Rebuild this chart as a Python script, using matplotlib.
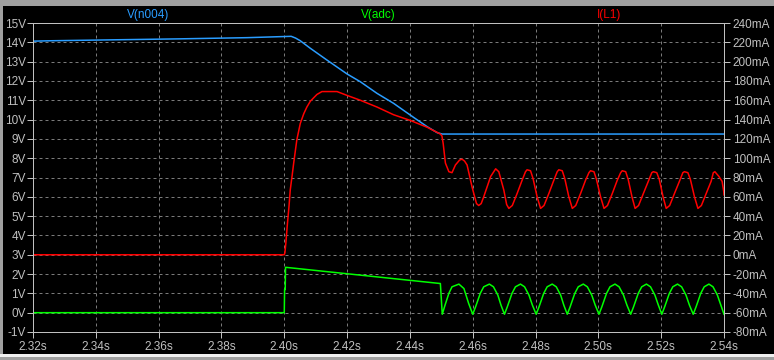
import matplotlib.pyplot as plt
import numpy as np
from matplotlib.patches import Rectangle

# ---- data ----
# V(n004), volts
n004_t = [2.32, 2.3255, 2.346, 2.367, 2.388, 2.4022, 2.4036, 2.4051, 2.4083, 2.4136,
          2.4200, 2.4242, 2.4295, 2.4348, 2.4412, 2.4455, 2.4487, 2.4503, 2.54]
n004_v = [14.06, 14.08, 14.13, 14.18, 14.24, 14.31, 14.22, 14.08, 13.69, 13.08,
          12.36, 11.96, 11.36, 10.84, 10.11, 9.63, 9.32, 9.25, 9.25]

# V(adc), volts
adc_t = [2.32, 2.4000, 2.4001, 2.4003, 2.4004, 2.4497, 2.4503,
         2.4512, 2.4524, 2.4534, 2.4556, 2.4572, 2.4587, 2.4600,
         2.4609, 2.4624, 2.4635, 2.4653, 2.4666, 2.4680, 2.4690, 2.4701,
         2.4710, 2.4725, 2.4736, 2.4752, 2.4765, 2.4779, 2.4790, 2.4802,
         2.4811, 2.4826, 2.4837, 2.4853, 2.4866, 2.4880, 2.4890, 2.4901,
         2.4910, 2.4925, 2.4936, 2.4952, 2.4965, 2.4979, 2.4990, 2.5002,
         2.5011, 2.5026, 2.5037, 2.5053, 2.5066, 2.5080, 2.5091, 2.5103,
         2.5112, 2.5127, 2.5138, 2.5153, 2.5166, 2.5180, 2.5191, 2.5202,
         2.5211, 2.5226, 2.5237, 2.5252, 2.5265, 2.5279, 2.5290, 2.5302,
         2.5311, 2.5326, 2.5337, 2.5352, 2.5365, 2.5379, 2.5390, 2.5400]
adc_v = [0.0, 0.0, 1.2, 1.2, 2.35, 1.51, -0.08,
         0.40, 1.00, 1.34, 1.48, 1.25, 0.48, -0.08,
         0.30, 1.00, 1.34, 1.48, 1.34, 0.91, 0.39, -0.08,
         0.30, 1.00, 1.34, 1.48, 1.34, 0.91, 0.39, -0.08,
         0.30, 1.00, 1.34, 1.48, 1.34, 0.91, 0.39, -0.08,
         0.30, 1.00, 1.34, 1.48, 1.34, 0.91, 0.39, -0.08,
         0.30, 1.00, 1.34, 1.48, 1.34, 0.91, 0.39, -0.08,
         0.30, 1.00, 1.34, 1.48, 1.34, 0.91, 0.39, -0.08,
         0.30, 1.00, 1.34, 1.48, 1.34, 0.91, 0.39, -0.08,
         0.30, 1.00, 1.34, 1.48, 1.34, 0.91, 0.39, -0.08]

# I(L1), mA
il1_t = [2.32, 2.4000, 2.4002, 2.4005, 2.4010, 2.4015, 2.4019, 2.4025, 2.4030, 2.4040,
         2.4051, 2.4062, 2.4072, 2.4083, 2.4104, 2.4120, 2.4168, 2.4200, 2.4242, 2.4295,
         2.4348, 2.4402, 2.4455, 2.4497, 2.4502, 2.4506, 2.4513, 2.4524, 2.4534, 2.4545,
         2.4558, 2.4566, 2.4574, 2.4582, 2.4598, 2.4612, 2.4619, 2.4627, 2.4635, 2.4657,
         2.4673, 2.4683, 2.4699, 2.4708,
         2.4715, 2.4726, 2.4742, 2.4757, 2.4768, 2.4773, 2.4784, 2.4792, 2.4805,
         2.4816, 2.4827, 2.4843, 2.4858, 2.4869, 2.4874, 2.4885, 2.4893, 2.4906,
         2.4917, 2.4928, 2.4944, 2.4959, 2.4970, 2.4975, 2.4986, 2.4994, 2.5007,
         2.5018, 2.5029, 2.5045, 2.5060, 2.5071, 2.5076, 2.5087, 2.5095, 2.5107,
         2.5117, 2.5128, 2.5144, 2.5159, 2.5170, 2.5175, 2.5186, 2.5194, 2.5206,
         2.5216, 2.5227, 2.5243, 2.5258, 2.5269, 2.5274, 2.5285, 2.5293, 2.5306,
         2.5317, 2.5328, 2.5344, 2.5359, 2.5366, 2.5371, 2.5384, 2.5394, 2.5399, 2.5400]
il1_ma = [0, 0, 2, 12, 32, 50, 67, 82, 95, 119,
          136, 146, 153, 159, 166, 169, 169, 165, 160, 153,
          145, 139, 132, 125, 123, 115, 95, 86, 85, 93,
          98, 99, 97, 93, 70, 53, 51, 53, 60, 81,
          89, 86, 67, 52,
          48, 51, 64, 77, 86, 88, 87, 79, 60,
          48, 51, 64, 77, 86, 88, 87, 79, 60,
          48, 51, 64, 77, 85, 87, 86, 78, 60,
          48, 51, 64, 77, 85, 87, 86, 78, 60,
          48, 51, 64, 76, 85, 86, 85, 78, 60,
          48, 51, 64, 76, 85, 86, 85, 78, 60,
          48, 51, 64, 76, 85, 86, 81, 76, 66, 62]

x_ticks = [2.32, 2.34, 2.36, 2.38, 2.40, 2.42, 2.44, 2.46, 2.48, 2.50, 2.52, 2.54]
v_ticks = list(range(-1, 16))
ma_ticks = list(range(-80, 241, 20))

fg = '#c0c0c0'
grid_c = '#7a7a7a'
c_n004 = '#2a9dff'
c_adc = '#00ff00'
c_il1 = '#ff0000'
font = 'Liberation Sans'
px = 0.72

fig = plt.figure(figsize=(7.74, 3.6), dpi=100, facecolor='black')

# window frame bits
fig.patches.append(Rectangle((0, 354/360), 1, 6/360, transform=fig.transFigure,
                             facecolor='#a0a0a0', edgecolor='none'))
fig.patches.append(Rectangle((0, 0), 3/774, 1, transform=fig.transFigure,
                             facecolor='#a0a0a0', edgecolor='none'))
fig.patches.append(Rectangle((0, 0), 1, 6/360, transform=fig.transFigure,
                             facecolor='#a0a0a0', edgecolor='none'))
fig.patches.append(Rectangle((0, 3/360), 1, 3/360, transform=fig.transFigure,
                             facecolor='#f0f0f0', edgecolor='none'))

ax = fig.add_axes([33/774, 28/360, 691/774, 309/360])
ax.set_facecolor('black')
ax2 = ax.twinx()

ax.plot(n004_t, n004_v, color=c_n004, lw=1.1)
ax.plot(adc_t, adc_v, color=c_adc, lw=1.1)
ax2.plot(il1_t, il1_ma, color=c_il1, lw=1.1)

ax.set_xlim(2.32, 2.54)
ax.set_ylim(-1, 15)
ax2.set_ylim(-80, 240)

ax.set_xticks(x_ticks)
ax.set_xticklabels([f"{t:.2f}s" for t in x_ticks])
ax.set_yticks(v_ticks)
ax.set_yticklabels([f"{v}V" for v in v_ticks])
ax2.set_yticks(ma_ticks)
ax2.set_yticklabels([f"{m}mA" for m in ma_ticks])

ax.grid(True, color=grid_c, linestyle=(0, (3, 3)), lw=px)
ax.set_axisbelow(True)

for a in (ax, ax2):
    for s in a.spines.values():
        s.set_color(fg)
        s.set_linewidth(px)
ax.tick_params(axis='x', colors=fg, length=4.3, width=px, pad=2, labelsize=8.5)
ax.tick_params(axis='y', colors=fg, length=4.3, width=px, pad=0.8, labelsize=8.5)
ax2.tick_params(axis='y', colors=fg, length=4.3, width=px, pad=2, labelsize=8.5)
for lab in ax.get_xticklabels() + ax.get_yticklabels() + ax2.get_yticklabels():
    lab.set_family(font)

ax.text(1/6, 1.008, 'V(n004)', transform=ax.transAxes, color=c_n004,
        ha='center', va='bottom', fontsize=8.5, family=font)
ax.text(0.5, 1.008, 'V(adc)', transform=ax.transAxes, color=c_adc,
        ha='center', va='bottom', fontsize=8.5, family=font)
ax.text(5/6, 1.008, 'I(L1)', transform=ax.transAxes, color=c_il1,
        ha='center', va='bottom', fontsize=8.5, family=font)

fig.savefig('out.png', dpi=100, facecolor='black')
